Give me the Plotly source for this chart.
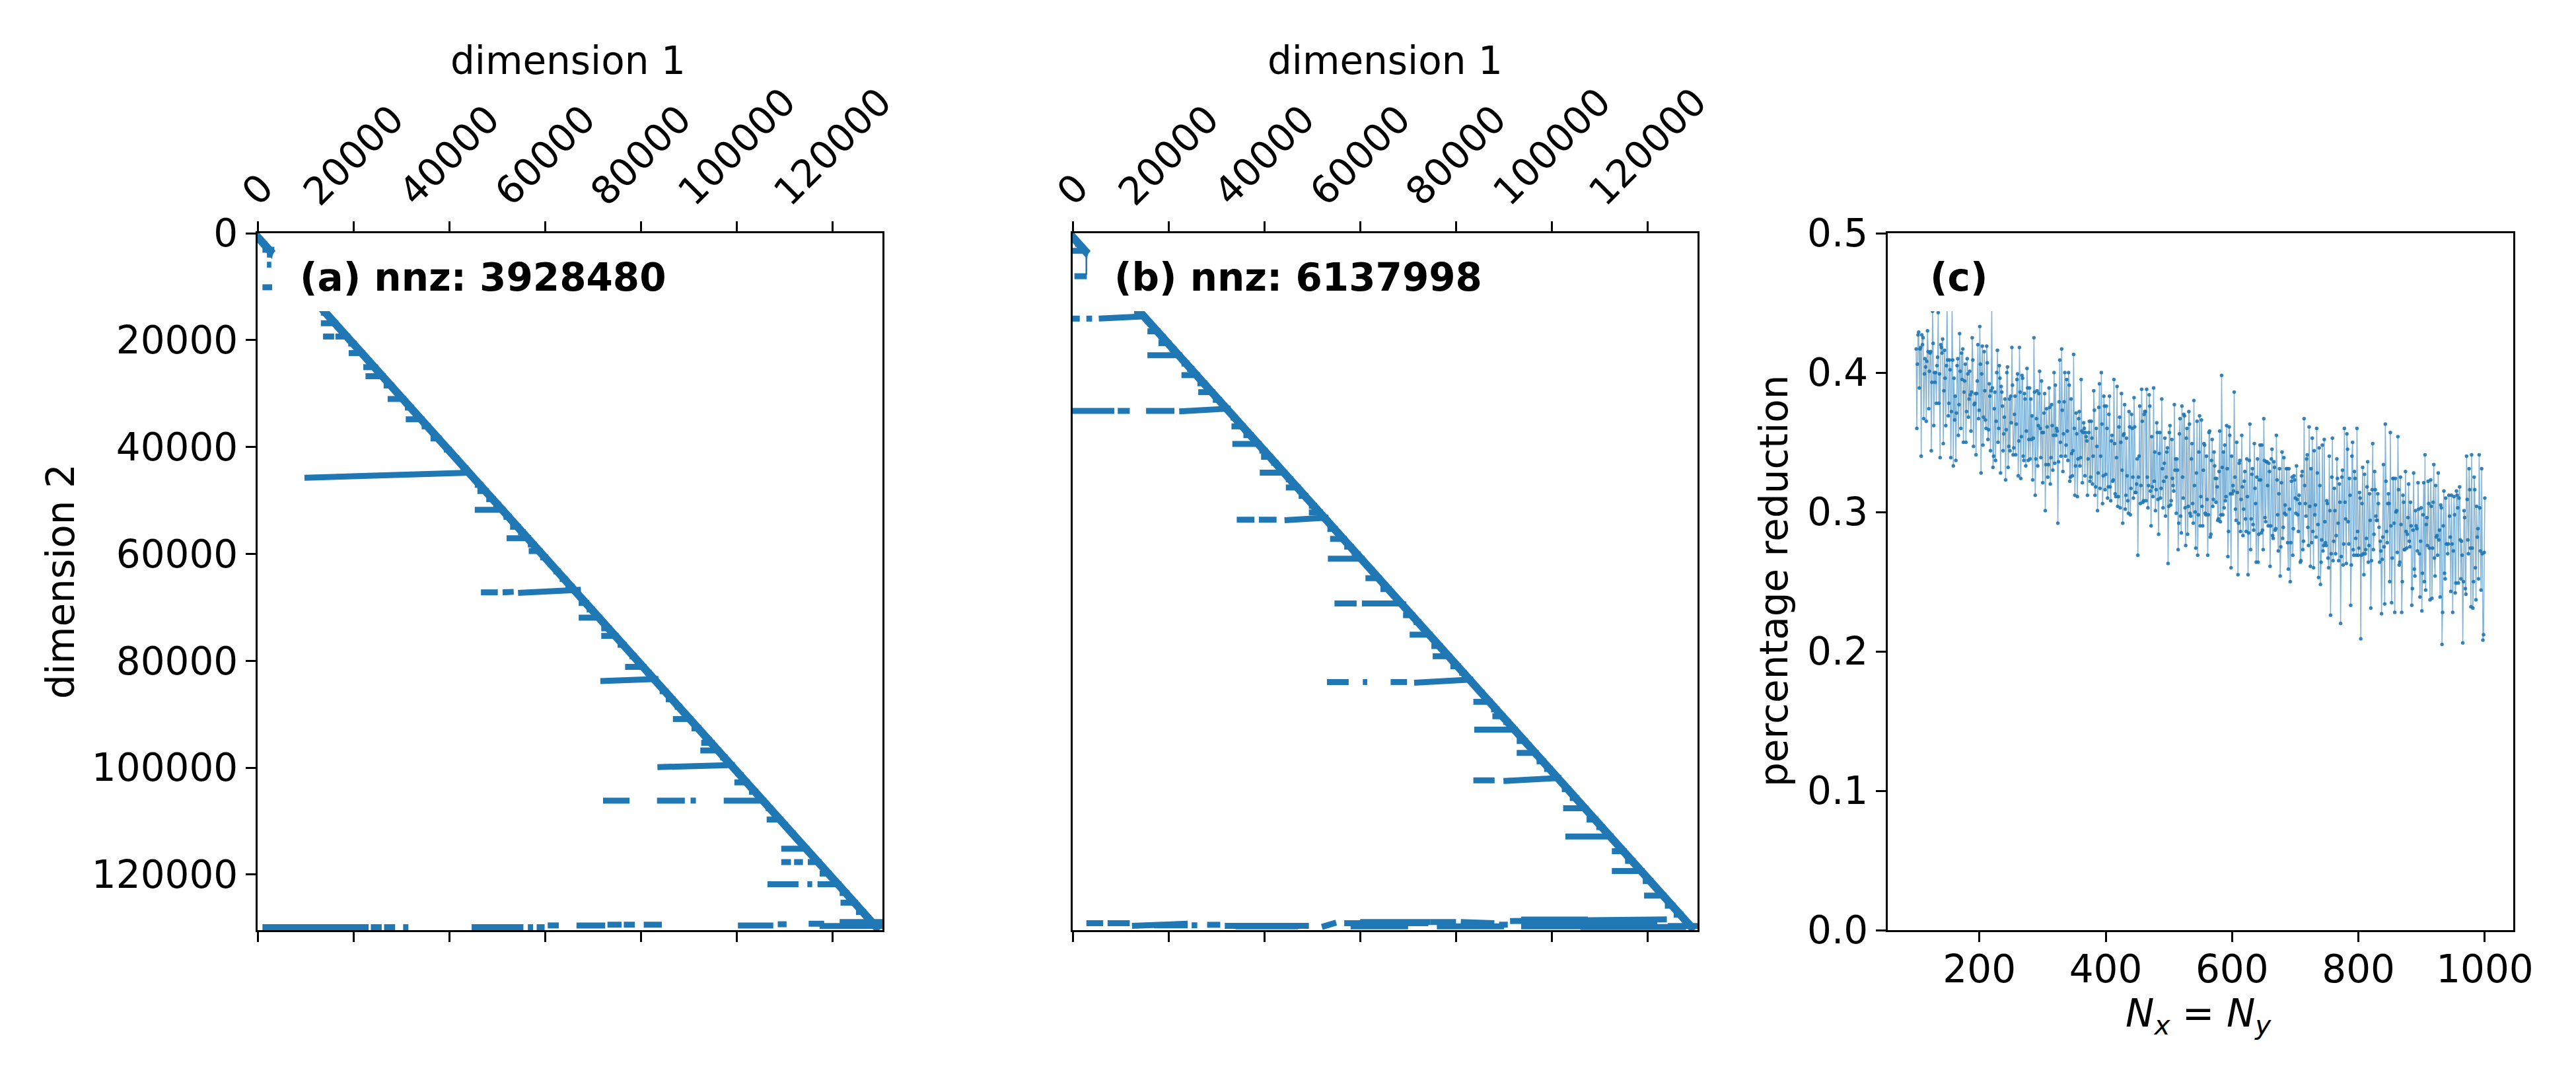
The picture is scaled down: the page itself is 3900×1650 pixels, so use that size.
import numpy as np
import plotly.graph_objects as go

BLUE = "#1f77b4"
FONT = "DejaVu Sans"
W, H = 3900, 1650
SIZE = 58
matrix_size = 130400
spy_ticks = [0, 20000, 40000, 60000, 80000, 100000, 120000]

# Panel (a): rows that run from a start column up to the diagonal
a_step_y = [2000, 14870, 16850, 20650, 22430, 25070, 26760, 28500, 31020, 32630, 34820, 36140, 38410, 40470, 42130, 43980,
            47080, 48240, 49770, 50800, 51750, 53070, 54930, 55960, 57070, 58230, 59470, 60660, 63270, 64690, 66110,
            69190, 70380, 71940, 73930, 75350, 77010, 79150, 81140, 82230, 85690, 87200, 88620, 90900, 92650, 94780,
            95350, 96770, 98100, 101420, 102750, 104500, 107580, 109710, 110660, 112320, 115160, 119810, 123460,
            125260, 127010]
a_step_x = [1000, 13200, 13200, 18920, 19010, 22060, 22520, 26300, 27140, 30740, 30920, 34240, 36090, 38860, 40980, 42370,
            45320, 45870, 47720, 49200, 45320, 51320, 52700, 54360, 51960, 56400, 56580, 58980, 61750, 63040, 64240,
            67010, 68670, 67010, 71720, 71720, 75130, 77620, 76700, 80860, 83900, 85190, 87040, 86670, 90550, 92850,
            92580, 92390, 96550, 100240, 99500, 102550, 106050, 106240, 109470, 111310, 109280, 117300, 121470,
            121650, 124880]
# Panel (a): free segments (row at start, column at start, row at end, column at end)
a_seg_y0 = [3100, 5900, 10120, 4000, 19330, 19330, 45760, 67200, 67200, 67300, 83800, 99900, 106160, 106160, 106160, 106160,
            117670, 117670, 117670, 121800, 121800, 121800,
            129850, 129850, 129850, 129850, 129850, 129850, 129850, 129520, 129520, 129380, 129380, 129380, 129520, 129300, 129200, 129620, 128900]
a_seg_x0 = [1015, 1950, 1015, 1950, 13660, 16240, 9780, 46610, 51130, 54360, 71530, 83440, 72090, 83350, 90360, 97280,
            109280, 111960, 114820, 106420, 114730, 116850,
            1015, 23630, 26400, 30370, 44670, 56400, 58240, 60550, 66550, 73010, 76420, 80580, 100240, 108550, 115000, 117300, 121470]
a_seg_y1 = [3100, 5900, 10120, 4000, 19330, 19330, 44810, 67200, 67100, 66700, 83400, 99500, 106160, 106160, 106160, 106160,
            117670, 117670, 117670, 121800, 121800, 121800,
            129850, 129850, 129850, 129850, 129850, 129850, 129850, 129520, 129520, 129380, 129380, 129380, 129520, 129300, 129200, 129620, 128900]
a_seg_x1 = [3500, 2860, 3050, 4000, 15970, 19330, 44400, 50120, 53440, 67470, 83650, 99620, 77620, 89160, 91470, 106160,
            111310, 113810, 117670, 112880, 115740, 121800,
            23170, 25900, 28700, 31470, 55470, 57500, 59900, 62860, 72550, 75960, 78730, 84360, 107620, 110390, 118240, 130400, 130400]

# Panel (b)
b_step_y = [14870, 18370, 19410, 20570, 21680, 22840, 24370, 25400, 26560, 28080, 29740, 31180, 34490, 36140, 37790, 39440,
            40680, 41840, 42960, 44810, 46050, 47580, 49150, 51000, 52250, 55340, 57200, 58650, 60090, 60900, 63030,
            64550, 66590, 71470, 72750, 75120, 77250, 79150, 81040, 82230, 86020, 87680, 89100, 90380, 91470, 92890,
            95020, 97250, 98810, 100240, 104030, 105680, 107580, 109710, 111130, 112890, 115630, 117440, 119330,
            121230, 123930, 125830, 127490]
b_step_x = [12830, 15600, 17900, 17900, 20210, 15600, 22700, 23900, 22700, 26030, 26210, 29260, 32950, 33140, 35630, 33320,
            38950, 39320, 41440, 39040, 44490, 44490, 47170, 49290, 49290, 53160, 53720, 56670, 58240, 53260, 62030,
            61100, 64240, 68950, 71160, 70330, 74860, 75130, 78820, 80670, 84820, 83620, 87320, 87590, 89900, 83810,
            92670, 92670, 96820, 98390, 102080, 103740, 102360, 107250, 109280, 102820, 112520, 115280, 112520,
            118970, 119250, 123580, 125430]
b_seg_y0 = [3300, 2000, 8050, 3700, 15980, 15980, 15980, 33250, 33250, 33250, 33350, 53610, 53610, 53700, 69290, 69290, 69400,
            83980, 83980, 83980, 84100, 102370, 102500,
            129100, 129100, 129600, 129500, 129400, 129600, 129800, 129100, 128900, 128900, 128900, 129380, 128700, 128430, 129700, 129380, 129620,
            129500, 129700, 129700, 129700, 129800, 129300]
b_seg_x0 = [0, 550, 370, 3300, 0, 2860, 5450, 0, 9410, 15320, 22240, 34240, 38860, 44210, 54640, 60360, 69000,
            53070, 60550, 66360, 71260, 83620, 89900,
            2860, 7290, 12370, 24830, 28060, 31750, 52000, 56670, 60000, 74680, 81000, 89000, 91280, 93590, 93590, 115000, 124200,
            17000, 34000, 58000, 76000, 106000, 95000]
b_seg_y1 = [3300, 2000, 8050, 7800, 15980, 15980, 15550, 33250, 33250, 33250, 32800, 53610, 53610, 53200, 69290, 69290, 68900,
            83980, 83980, 83980, 83500, 102370, 101900,
            129100, 129100, 129200, 129500, 129400, 129600, 129000, 129100, 128900, 128900, 129100, 129380, 128400, 128430, 129700, 129380, 129620,
            129500, 129700, 129700, 129700, 129800, 129300]
b_seg_x1 = [3140, 1300, 2950, 3300, 1480, 4060, 15400, 8680, 11910, 21230, 33000, 37930, 42550, 53400, 59260, 69000, 69000,
            57600, 61470, 69780, 83600, 88050, 102000,
            6370, 11910, 24000, 26000, 30800, 49290, 55000, 74210, 74680, 80000, 88000, 90800, 124000, 107500, 110000, 119000, 130400,
            24000, 47000, 70000, 90000, 128000, 122000]

# Panel (c)
Nx_first, Nx_last = 100, 1000
percentage_reduction = [
    .417,.360,.406,.427,.429,.389,.417,.418,.340,.427,.420,.425,.367,.399,.410,.404,.365,.408,.430,.415,.374,.401,.414,.415,.344,.393,.444,.421,.362,.400,.393,.400,.378,.405,.411,.443,.378,.399,.339,.420,.418,.414,.424,.349,.387,.416,.396,.362,.405,.452,.409,.369,.378,.409,.402,.339,.372,.450,.409,.333,.396,.366,.383,.337,.371,.405,.410,.355,.377,.428,.401,.360,.414,.395,.417,.350,.386,.394,.406,.350,.372,.410,.399,.368,.381,.401,.384,.358,.386,.425,.409,.347,.377,.378,.385,.341,.385,.394,.420,.367,.373,.433,.406,.328,.399,.419,.348,.368,.415,.387,.366,.360,.419,.407,.352,.359,.392,.383,.344,.387,.447,.389,.332,.340,.374,.386,.337,.365,.400,.416,.350,.360,.405,.396,.328,.390,.386,.376,.344,.356,.368,.381,.323,.359,.400,.404,.332,.347,.381,.344,.383,.364,.418,.391,.341,.346,.370,.383,.341,.363,.395,.399,.326,.351,.418,.386,.324,.354,.398,.396,.340,.337,.385,.381,.333,.358,.403,.389,.337,.352,
    .389,.338,.381,.352,.369,.323,.353,.425,.386,.312,.338,.367,.387,.333,.362,.385,.401,.360,.339,.394,.357,.321,.357,.371,.385,.301,.334,.374,.361,.325,.334,.389,.375,.320,.339,.377,.362,.330,.355,.400,.335,.391,.355,.360,.358,.292,.336,.379,.409,.350,.340,.417,.373,.329,.356,.379,.400,.340,.348,.395,.358,.337,.400,.391,.322,.325,.381,.342,.326,.344,.413,.360,.312,.333,.371,.356,.311,.338,.367,.372,.333,.339,.395,.358,.321,.357,.364,.360,.326,.357,.354,.351,.312,.338,.357,.365,.322,.325,.365,.353,.320,.340,.387,.373,.312,.318,.360,.347,.301,.328,.375,.392,.317,.340,.400,.363,.306,.326,.383,.376,.316,.327,.376,.360,.310,.318,.370,.383,.318,.308,.351,.355,.322,.323,.395,.349,.313,.311,.339,.390,.304,.311,.361,.368,.303,.350,.385,.330,.292,.355,.356,.377,.302,.312,.353,.326,.308,.299,.372,.361,.298,.317,.370,.360,.325,.310,.382,.361,.314,.314,.320,.338,.269,.325,.340,.376,.306,.319,.388,.365,.307,.308,.370,.372,
    .372,.308,.388,.325,.303,.319,.384,.376,.315,.290,.354,.318,.311,.389,.322,.343,.301,.316,.364,.357,.309,.284,.342,.357,.310,.317,.381,.331,.303,.322,.335,.353,.297,.325,.343,.346,.263,.304,.357,.362,.305,.308,.352,.324,.319,.315,.377,.330,.338,.299,.338,.330,.273,.292,.356,.367,.297,.285,.376,.325,.310,.370,.369,.303,.276,.353,.360,.284,.304,.372,.363,.299,.297,.338,.349,.306,.292,.380,.319,.300,.274,.328,.365,.269,.298,.343,.369,.290,.311,.366,.304,.290,.330,.349,.348,.299,.298,.340,.309,.269,.298,.357,.358,.282,.284,.337,.352,.304,.309,.343,.333,.324,.307,.324,.318,.294,.295,.329,.358,.293,.298,.398,.332,.298,.343,.303,.348,.308,.311,.362,.331,.268,.286,.361,.355,.313,.260,.340,.313,.319,.315,.386,.325,.302,.294,.350,.314,.255,.292,.335,.337,.286,.309,.355,.318,.283,.302,.322,.329,.295,.286,.338,.311,.255,.285,.337,.363,.273,.295,.327,.331,.291,.287,.349,.317,.306,.264,.325,.338,.264,.284,.323,.348,
    .323,.285,.348,.287,.273,.367,.337,.296,.293,.336,.336,.319,.290,.335,.329,.261,.290,.338,.345,.283,.281,.336,.332,.287,.288,.355,.323,.298,.272,.313,.331,.254,.275,.321,.343,.281,.289,.339,.299,.305,.298,.331,.331,.278,.259,.331,.302,.250,.278,.322,.325,.269,.288,.326,.323,.310,.299,.333,.309,.298,.286,.312,.306,.264,.265,.326,.329,.273,.279,.367,.319,.306,.297,.338,.341,.289,.276,.361,.304,.261,.331,.278,.353,.286,.260,.344,.298,.305,.282,.360,.328,.291,.253,.346,.319,.248,.264,.280,.348,.272,.276,.352,.293,.278,.276,.308,.306,.267,.260,.340,.301,.226,.270,.325,.353,.265,.279,.317,.301,.270,.283,.338,.324,.292,.265,.320,.307,.220,.268,.325,.330,.262,.277,.360,.307,.295,.263,.356,.345,.293,.277,.324,.312,.233,.262,.340,.350,.273,.269,.329,.324,.281,.269,.360,.286,.269,.274,.314,.310,.209,.269,.306,.332,.270,.255,.327,.270,.273,.281,.318,.336,.264,.276,.313,.294,.231,.265,.316,.349,.273,.284,.329,.316,.297,.294,
    .294,.313,.306,.289,.264,.279,.272,.227,.266,.282,.334,.275,.234,.363,.322,.286,.278,.306,.313,.306,.250,.357,.290,.235,.267,.324,.324,.292,.228,.324,.300,.301,.271,.354,.316,.262,.264,.325,.291,.228,.250,.312,.307,.273,.273,.329,.286,.274,.284,.296,.320,.279,.275,.307,.290,.233,.245,.287,.328,.259,.254,.301,.290,.288,.272,.321,.302,.270,.239,.279,.303,.229,.256,.298,.321,.250,.341,.244,.291,.296,.276,.322,.306,.274,.237,.323,.304,.238,.274,.307,.334,.267,.254,.319,.282,.283,.269,.328,.280,.287,.239,.305,.303,.205,.228,.290,.315,.256,.252,.310,.277,.277,.270,.277,.312,.297,.282,.243,.312,.277,.228,.272,.311,.298,.242,.249,.315,.312,.303,.249,.310,.318,.280,.252,.279,.269,.206,.250,.301,.296,.245,.241,.340,.309,.280,.270,.331,.316,.274,.232,.341,.274,.231,.250,.325,.316,.260,.237,.304,.282,.288,.252,.341,.303,.272,.244,.331,.270,.208,.212,.271,.310,
]
Nx = np.linspace(Nx_first, Nx_last, len(percentage_reduction))


def spy_segments(step_y, step_x, y0, x0, y1, x1):
    xs, ys = [], []
    for y, x in zip(step_y, step_x):
        xs += [x, y, None]
        ys += [y, y, None]
    for a, b, c, d in zip(y0, x0, y1, x1):
        xs += [b, d, None]
        ys += [a, c, None]
    return xs, ys


def px_x(v):
    return v / W


def px_y(v):
    return 1 - v / H


def box_path(left, right, top, bottom, r=16):
    l, rr, t, b = px_x(left), px_x(right), px_y(top), px_y(bottom)
    dx, dy = r / W, r / H
    return (f"M {l+dx} {t} L {rr-dx} {t} Q {rr} {t} {rr} {t-dy} L {rr} {b+dy} Q {rr} {b} {rr-dx} {b} "
            f"L {l+dx} {b} Q {l} {b} {l} {b+dy} L {l} {t-dy} Q {l} {t} {l+dx} {t} Z")


TOP, BOTTOM = 353, 1408
dom_y = [px_y(BOTTOM), px_y(TOP)]
dom_a = [px_x(390), px_x(1336)]
dom_b = [px_x(1624), px_x(2570)]
dom_c = [px_x(2858), px_x(3805)]

fig = go.Figure()
diag_x = [-700, matrix_size - 700]
diag_y = [0, matrix_size]
for xa, ya, steps in [("x", "y", (a_step_y, a_step_x, a_seg_y0, a_seg_x0, a_seg_y1, a_seg_x1)),
                      ("x2", "y2", (b_step_y, b_step_x, b_seg_y0, b_seg_x0, b_seg_y1, b_seg_x1))]:
    xs, ys = spy_segments(*steps)
    fig.add_trace(go.Scatter(x=xs, y=ys, mode="lines", line=dict(color=BLUE, width=9), xaxis=xa, yaxis=ya,
                             showlegend=False, hoverinfo="skip"))
    fig.add_trace(go.Scatter(x=diag_x, y=diag_y, mode="lines", line=dict(color=BLUE, width=12), xaxis=xa, yaxis=ya,
                             showlegend=False, hoverinfo="skip"))
fig.add_trace(go.Scatter(x=Nx, y=percentage_reduction, mode="lines", line=dict(color="rgba(31,119,180,0.55)", width=1.5),
                         xaxis="x3", yaxis="y3", showlegend=False, hoverinfo="skip"))
fig.add_trace(go.Scatter(x=Nx, y=percentage_reduction, mode="markers",
                         marker=dict(color="rgba(31,119,180,0.9)", size=5.5, line=dict(width=0)),
                         xaxis="x3", yaxis="y3", showlegend=False, hoverinfo="skip"))

line = dict(showline=True, linecolor="black", linewidth=3.3, mirror=True, showgrid=False, zeroline=False, automargin=False,
            tickcolor="black", tickwidth=3.3, ticklen=15, tickfont=dict(family=FONT, size=SIZE, color="black"))
spy_x = dict(line, range=[0, matrix_size], tickmode="array", tickvals=spy_ticks, ticks="outside", side="top",
             mirror="ticks", showticklabels=False)
fig.update_layout(
    width=W, height=H, autosize=False, margin=dict(l=0, r=0, t=0, b=0),
    paper_bgcolor="white", plot_bgcolor="white", font=dict(family=FONT, size=SIZE, color="black"),
    xaxis=dict(spy_x, domain=dom_a, anchor="y"),
    yaxis=dict(line, domain=dom_y, anchor="x", range=[matrix_size, 0], tickmode="array", tickvals=spy_ticks,
               ticktext=[str(t) for t in spy_ticks], ticks="outside"),
    xaxis2=dict(spy_x, domain=dom_b, anchor="y2"),
    yaxis2=dict(line, domain=dom_y, anchor="x2", range=[matrix_size, 0], ticks="", showticklabels=False),
    xaxis3=dict(line, domain=dom_c, anchor="y3", range=[55, 1045], tickmode="array", tickvals=[200, 400, 600, 800, 1000],
                ticktext=["200", "400", "600", "800", "1000"], ticks="outside", ticklabelstandoff=-9),
    yaxis3=dict(line, domain=dom_y, anchor="x3", range=[0, 0.5], tickmode="array", tickvals=[0, .1, .2, .3, .4, .5],
                ticktext=["0.0", "0.1", "0.2", "0.3", "0.4", "0.5"], ticks="outside"),
)

shapes = []
annotations = []
for left, right, text, tx in [(412, 1050, "<b>(a) nnz: 3928480</b>", 453), (1646, 2286, "<b>(b) nnz: 6137998</b>", 1686),
                              (2880, 3047, "<b>(c)</b>", 2921)]:
    shapes.append(dict(type="path", xref="paper", yref="paper", path=box_path(left, right, 377, 471),
                       fillcolor="white", line=dict(width=0), layer="above"))
    annotations.append(dict(xref="paper", yref="paper", x=px_x(tx), y=px_y(420), xanchor="left", yanchor="middle",
                            text=text, showarrow=False, borderpad=0, font=dict(family=FONT, size=SIZE, color="black")))
for xr in ("x", "x2"):
    for t in spy_ticks:
        annotations.append(dict(xref=xr, yref="paper", x=t, y=px_y(326), xanchor="center", yanchor="bottom", text=str(t),
                                textangle=-45, showarrow=False, borderpad=0,
                                font=dict(family=FONT, size=SIZE, color="black")))
for x, y, text, angle in [(860, 92, "dimension 1", 0), (2097, 92, "dimension 1", 0), (92, 880, "dimension 2", -90),
                          (2686, 880, "percentage reduction", -90),
                          (3328, 1538, "<i>N<sub>x</sub></i> = <i>N<sub>y</sub></i>", 0)]:
    annotations.append(dict(xref="paper", yref="paper", x=px_x(x), y=px_y(y), xanchor="center", yanchor="middle", text=text,
                            textangle=angle, showarrow=False, borderpad=0,
                            font=dict(family=FONT, size=SIZE, color="black")))
fig.update_layout(shapes=shapes, annotations=annotations)
fig.write_html("out.html", config={"displayModeBar": False}, post_script="document.body.style.margin='0';")
